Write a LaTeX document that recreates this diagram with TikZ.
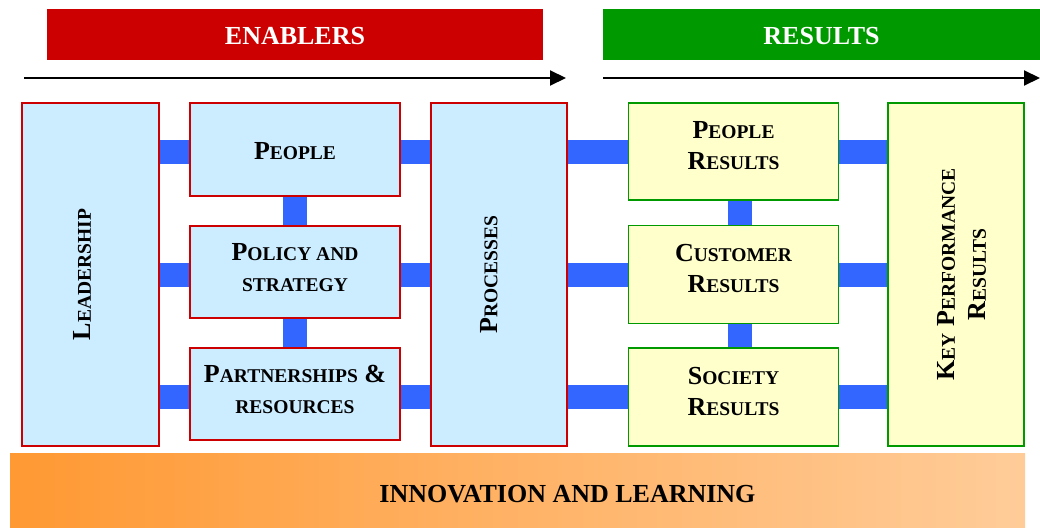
\documentclass[tikz,border=0pt]{standalone}
\usepackage{fontspec}
\setmainfont{Liberation Serif}
\usetikzlibrary{arrows.meta,backgrounds}
\definecolor{enabred}{HTML}{CC0000}
\definecolor{resgreen}{HTML}{009900}
\definecolor{boxblue}{HTML}{CCECFF}
\definecolor{boxyellow}{HTML}{FFFFCC}
\definecolor{linkblue}{HTML}{3366FF}
\definecolor{innovleft}{HTML}{FF9933}
\definecolor{innovright}{HTML}{FFCC99}
\newcommand{\smc}[1]{{\fontsize{19.5}{31}\selectfont #1}}

\begin{document}
\begin{tikzpicture}[x=1pt, y=-1pt,
    every node/.style={inner sep=0pt, align=center, font=\bfseries\fontsize{26}{31}\selectfont},
    enabler/.style={draw=enabred, fill=boxblue, line width=1.5pt},
    result/.style={draw=resgreen, fill=boxyellow, line width=1.5pt, text depth=12pt},
    banner/.style={text=white, minimum height=51pt, text height=21pt},
    link/.style={draw=linkblue, line width=24pt},
    flow/.style={-{Triangle[length=16pt, width=15pt]}, line width=2pt}]
  \useasboundingbox (0,0) rectangle (1040,527);

  \node[banner, fill=enabred, minimum width=496pt] (enablers) at (295,34.5) {ENABLERS};
  \node[banner, fill=resgreen, minimum width=437pt] (results) at (821.5,34.5) {RESULTS};
  \coordinate (enabstart) at (24,78);
  \coordinate (enabend) at (566,78);
  \coordinate (resstart) at (603,78);
  \coordinate (resend) at (1040,78);
  \draw[flow] (enabstart) -- (enabend);
  \draw[flow] (resstart) -- (resend);

  \node[enabler, minimum width=137pt, minimum height=343pt] (leadership) at (90.5,274.5) {};
  \node[rotate=90] (leadtext) at ([xshift=-8pt]leadership.center) {L\smc{EADERSHIP}};
  \node[enabler, minimum width=210pt, minimum height=93pt, text height=21pt] (people) at (295,149.5) {P\smc{EOPLE}};
  \node[enabler, minimum width=210pt, minimum height=92pt, text depth=9pt] (policy) at (295,272) {P\smc{OLICY AND}\\\smc{STRATEGY}};
  \node[enabler, minimum width=210pt, minimum height=92pt, text depth=9pt] (partners) at (295,394) {P\smc{ARTNERSHIPS} \&\\\smc{RESOURCES}};
  \node[enabler, minimum width=136pt, minimum height=343pt] (processes) at (499,274.5) {};
  \node[rotate=90] (proctext) at ([xshift=-10pt]processes.center) {P\smc{ROCESSES}};

  \node[result, minimum width=210pt, minimum height=97pt] (presults) at (733.5,151.5) {P\smc{EOPLE}\\R\smc{ESULTS}};
  \node[result, minimum width=210pt, minimum height=98pt] (cresults) at (733.5,274.5) {C\smc{USTOMER}\\R\smc{ESULTS}};
  \node[result, minimum width=210pt, minimum height=98pt] (sresults) at (733.5,397) {S\smc{OCIETY}\\R\smc{ESULTS}};
  \node[result, text depth=0pt, minimum width=136pt, minimum height=343pt] (kpr) at (956,274.5) {};
  \node[rotate=90] (kprtext) at ([xshift=6pt]kpr.center) {K\smc{EY} P\smc{ERFORMANCE}\\R\smc{ESULTS}};

  \shade[left color=innovleft, right color=innovright] (10,453) rectangle (1025,527);
  \node[minimum width=1015pt, minimum height=74pt] (innov) at (517.5,490) {};
  \node (innovtext) at ([xshift=50pt, yshift=-4pt]innov.center) {INNOVATION AND LEARNING};

  \begin{scope}[on background layer]
    \foreach \res/\en in {presults/people, cresults/policy, sresults/partners} {
      \draw[link] (leadership.east |- \res.west) -- (\en.west |- \res.west);
      \draw[link] (\en.east |- \res.west) -- (processes.west |- \res.west);
      \draw[link] (processes.east |- \res.west) -- (\res.west);
      \draw[link] (\res.east) -- (kpr.west |- \res.west);
    }
    \draw[link] (people.south) -- (policy.north);
    \draw[link] (policy.south) -- (partners.north);
    \draw[link] ([xshift=6pt]presults.south) -- ([xshift=6pt]cresults.north);
    \draw[link] ([xshift=6pt]cresults.south) -- ([xshift=6pt]sresults.north);
  \end{scope}
\end{tikzpicture}
\end{document}
